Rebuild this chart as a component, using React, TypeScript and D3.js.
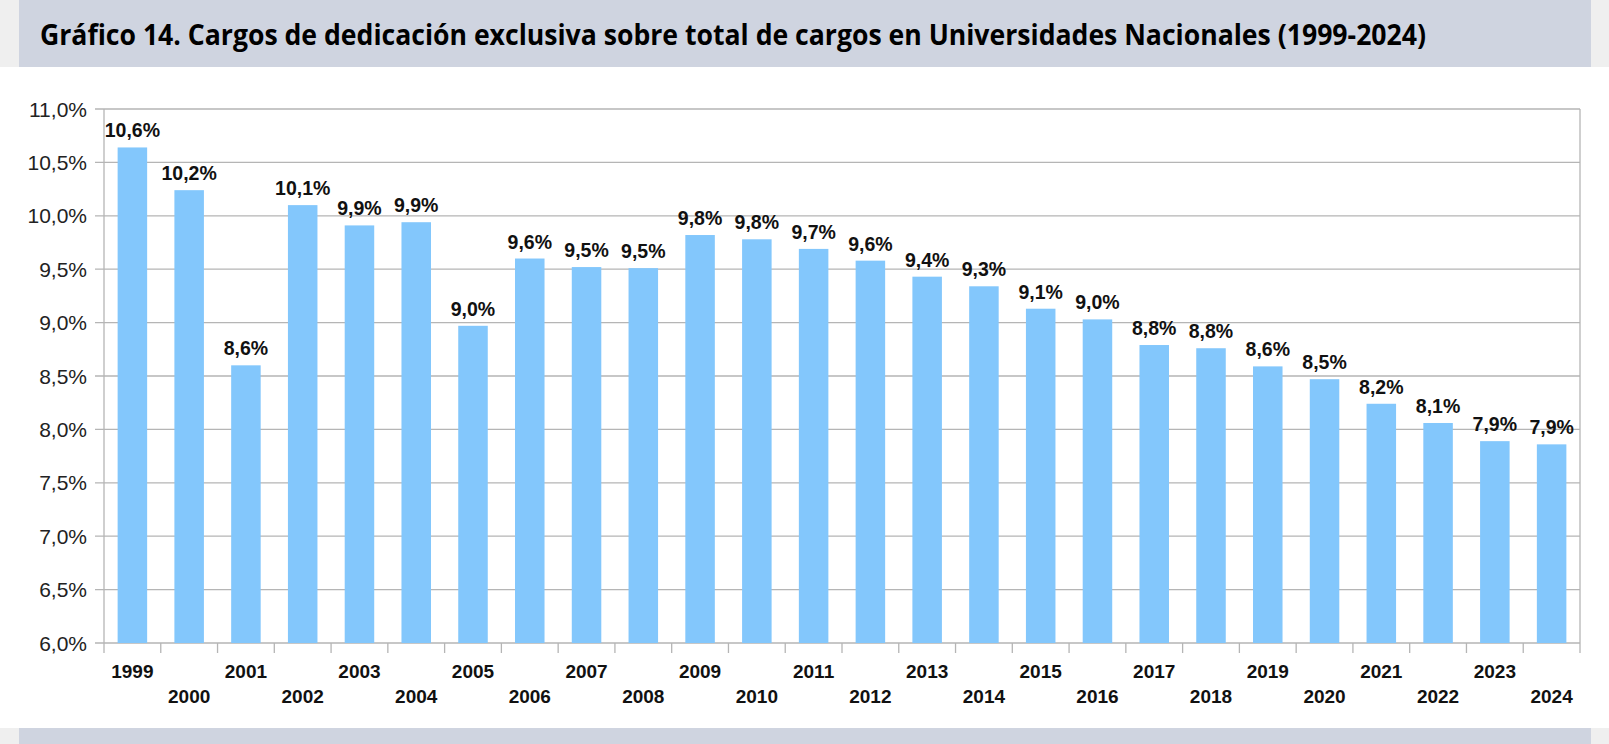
// Gráfico 14 - bar chart of dedicación exclusiva share
import React from 'react';
import * as d3 from 'd3';

const title = 'Gráfico 14. Cargos de dedicación exclusiva sobre total de cargos en Universidades Nacionales (1999-2024)';

const years = [
  '1999', '2000', '2001', '2002', '2003', '2004', '2005', '2006', '2007',
  '2008', '2009', '2010', '2011', '2012', '2013', '2014', '2015', '2016',
  '2017', '2018', '2019', '2020', '2021', '2022', '2023', '2024',
];

// share of exclusive positions, in %
const shares = [
  10.64, 10.24, 8.6, 10.1, 9.91, 9.94, 8.97, 9.6, 9.52,
  9.51, 9.82, 9.78, 9.69, 9.58, 9.43, 9.34, 9.13, 9.03,
  8.79, 8.76, 8.59, 8.47, 8.24, 8.06, 7.89, 7.86,
];

const yTicks = [6.0, 6.5, 7.0, 7.5, 8.0, 8.5, 9.0, 9.5, 10.0, 10.5, 11.0];

const W = 1609;
const H = 744;
const plot = { left: 104, right: 1580, top: 109, bottom: 643 };

const fmt = (v: number) => v.toFixed(1).replace('.', ',') + '%';

const labelFont = '"Liberation Sans", Arial, sans-serif';

export default function App() {
  const x = d3.scaleBand<string>()
    .domain(years)
    .range([plot.left, plot.right])
    .paddingInner(0.48)
    .paddingOuter(0.24);

  const y = d3.scaleLinear()
    .domain([6, 11])
    .range([plot.bottom, plot.top]);

  const step = x.step();
  const boundaries = d3.range(years.length + 1).map((i) => plot.left + i * step);

  return (
    <svg width={W} height={H} style={{ position: 'absolute', left: 0, top: 0, background: '#fff' }}>
      {/* header / footer bands */}
      <rect x={0} y={0} width={19} height={67} fill="#efefef" />
      <rect x={1591} y={0} width={W - 1591} height={67} fill="#efefef" />
      <rect x={19} y={0} width={1572} height={67} fill="#cfd4e0" />
      <text
        x={40}
        y={45}
        fontFamily='"Open Sans", "Noto Sans", sans-serif'
        fontWeight="bold"
        fontSize={28}
        fill="#000"
        textLength={1386}
        lengthAdjust="spacingAndGlyphs"
      >
        {title}
      </text>
      <rect x={0} y={728} width={19} height={H - 728} fill="#efefef" />
      <rect x={1591} y={728} width={W - 1591} height={H - 728} fill="#efefef" />
      <rect x={19} y={728} width={1572} height={H - 728} fill="#cfd4e0" />

      {/* gridlines + y labels */}
      {yTicks.map((t) => (
        <g key={t}>
          <line x1={plot.left - 9} x2={plot.right} y1={y(t)} y2={y(t)} stroke="#b5b5b5" strokeWidth={1.3} />
          <text
            x={87}
            y={y(t)}
            dy="0.36em"
            textAnchor="end"
            fontFamily={labelFont}
            fontSize={21}
            fill="#222"
          >
            {fmt(t)}
          </text>
        </g>
      ))}

      {/* plot border */}
      <line x1={plot.left} x2={plot.left} y1={plot.top} y2={plot.bottom} stroke="#b5b5b5" strokeWidth={1.3} />
      <line x1={plot.right} x2={plot.right} y1={plot.top} y2={plot.bottom} stroke="#b5b5b5" strokeWidth={1.3} />

      {/* category ticks */}
      {boundaries.map((bx, i) => (
        <line key={i} x1={bx} x2={bx} y1={plot.bottom} y2={plot.bottom + 10} stroke="#b5b5b5" strokeWidth={1.3} />
      ))}

      {/* bars */}
      {years.map((yr, i) => (
        <rect
          key={yr}
          x={x(yr)}
          y={y(shares[i])}
          width={x.bandwidth()}
          height={plot.bottom - y(shares[i])}
          fill="#83c7fc"
        />
      ))}

      {/* value labels */}
      {years.map((yr, i) => (
        <text
          key={yr}
          x={(x(yr) ?? 0) + x.bandwidth() / 2}
          y={y(shares[i]) - 10}
          textAnchor="middle"
          fontFamily={labelFont}
          fontWeight="bold"
          fontSize={19.5}
          fill="#111"
        >
          {fmt(shares[i])}
        </text>
      ))}

      {/* year labels, staggered */}
      {years.map((yr, i) => (
        <text
          key={yr}
          x={(x(yr) ?? 0) + x.bandwidth() / 2}
          y={i % 2 === 0 ? 678 : 703}
          textAnchor="middle"
          fontFamily={labelFont}
          fontWeight="bold"
          fontSize={19}
          fill="#111"
        >
          {yr}
        </text>
      ))}
    </svg>
  );
}
